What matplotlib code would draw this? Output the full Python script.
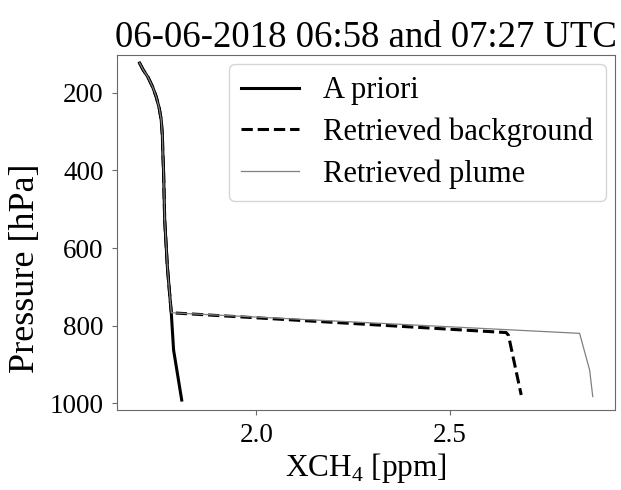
import numpy as np
import matplotlib
matplotlib.use("Agg")
import matplotlib.pyplot as plt

plt.rcParams['font.family'] = ['Liberation Serif', 'DejaVu Serif']
plt.rcParams['mathtext.fontset'] = 'custom'
plt.rcParams['mathtext.rm'] = 'Liberation Serif'

# profiles (pressure in hPa, XCH4 in ppm)
upper_p = [123, 140, 160, 185, 210, 240, 270, 310, 350, 400, 528, 650, 767]
upper_x = [1.698, 1.707, 1.720, 1.732, 1.741, 1.749, 1.754, 1.757, 1.758, 1.760, 1.763, 1.770, 1.780]

apriori_p = upper_p + [863, 992]
apriori_x = upper_x + [1.786, 1.807]

background_p = upper_p + [818, 825, 979]
background_x = upper_x + [2.646, 2.652, 2.685]

plume_p = upper_p + [820, 915, 983]
plume_x = upper_x + [2.836, 2.862, 2.870]

fig = plt.figure(figsize=(6.21, 4.90), dpi=100)
ax = fig.add_axes([0.188, 0.163, 0.802, 0.725])

ax.plot(apriori_x, apriori_p, color='black', lw=2.2, label='A priori')
ax.plot(background_x, background_p, color='black', lw=2.2, ls='--', label='Retrieved background')
ax.plot(plume_x, plume_p, color='gray', lw=0.9, label='Retrieved plume')

ax.set_xlim(1.639, 2.927)
ax.set_ylim(1018, 102)
ax.set_xticks([2.0, 2.5])
ax.set_yticks([200, 400, 600, 800, 1000])
ax.tick_params(labelsize=19.5, color='dimgray', pad=6)
for s in ax.spines.values():
    s.set_color('dimgray')

ax.set_xlabel('XCH$_4$ [ppm]', fontsize=22.5, labelpad=2)
ax.set_ylabel('Pressure [hPa]', fontsize=26)
ax.yaxis.set_label_coords(-0.151, 0.40)
ax.set_title('06-06-2018 06:58 and 07:27 UTC', fontsize=26.5, pad=4)
ax.legend(loc='upper right', fontsize=22, borderaxespad=0.3, handlelength=1.9,
          labelspacing=0.4)

fig.savefig('out.png', dpi=100)
